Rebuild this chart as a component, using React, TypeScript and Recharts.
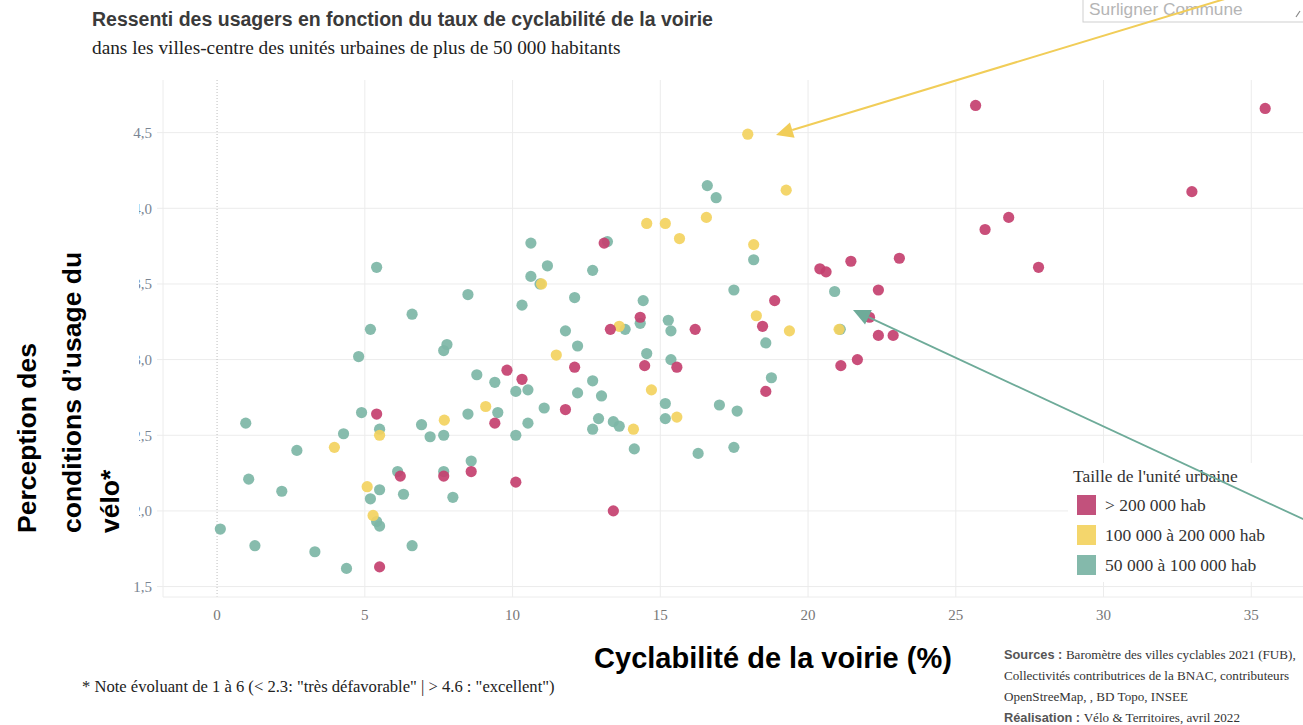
import React from 'react';
import { ScatterChart, Scatter, XAxis, YAxis, CartesianGrid, ReferenceLine } from 'recharts';

// ---- Data ----
// > 200 000 hab
const bigX = [5.40, 5.50, 6.20, 7.67, 8.60, 9.40, 9.81, 10.32, 10.11, 11.79, 12.10, 13.10, 13.31, 13.41, 14.32, 14.47, 16.18, 15.56, 18.57, 18.46, 18.87, 20.40, 20.61, 21.45, 23.09, 22.38, 22.08, 22.38, 22.88, 21.67, 21.11, 25.67, 25.99, 26.79, 27.80, 32.99, 35.47];
const bigY = [2.64, 1.63, 2.23, 2.23, 2.26, 2.58, 2.93, 2.87, 2.19, 2.67, 2.95, 3.77, 3.20, 2.00, 3.28, 2.96, 3.20, 2.95, 2.79, 3.22, 3.39, 3.60, 3.58, 3.65, 3.67, 3.46, 3.28, 3.16, 3.16, 3.00, 2.96, 4.68, 3.86, 3.94, 3.61, 4.11, 4.66];
// 100 000 à 200 000 hab
const midX = [3.97, 5.08, 5.28, 5.50, 7.69, 9.09, 10.98, 11.48, 13.61, 14.09, 14.54, 14.70, 15.17, 15.65, 16.56, 17.96, 19.26, 18.16, 15.56, 18.25, 19.37, 21.05];
const midY = [2.42, 2.16, 1.97, 2.50, 2.60, 2.69, 3.50, 3.03, 3.22, 2.54, 3.90, 2.80, 3.90, 3.80, 3.94, 4.49, 4.12, 3.76, 2.62, 3.29, 3.19, 3.20];
// 50 000 à 100 000 hab
const smallX = [0.11, 1.28, 0.97, 1.07, 2.19, 2.70, 3.31, 4.38, 4.28, 4.89, 4.79, 5.19, 5.40, 5.50, 5.50, 5.19, 5.40, 5.50, 6.11, 6.31, 6.60, 6.60, 6.92, 7.21, 7.67, 7.67, 7.67, 7.78, 7.98, 8.49, 8.49, 8.60, 8.79, 9.40, 9.50, 10.11, 10.52, 10.11, 10.52, 10.32, 10.62, 11.18, 10.62, 10.93, 11.07, 11.79, 12.10, 12.20, 12.20, 12.71, 12.71, 13.01, 12.91, 12.71, 13.21, 13.41, 13.61, 13.81, 14.12, 14.32, 14.42, 14.54, 16.59, 16.89, 18.16, 17.49, 15.27, 15.36, 15.36, 15.17, 15.17, 16.28, 17.49, 17.00, 17.60, 18.76, 18.57, 20.90, 21.09];
const smallY = [1.88, 1.77, 2.58, 2.21, 2.13, 2.40, 1.73, 1.62, 2.51, 2.65, 3.02, 3.20, 3.61, 2.54, 2.14, 2.08, 1.93, 1.90, 2.26, 2.11, 1.77, 3.30, 2.57, 2.49, 2.50, 2.26, 3.06, 3.10, 2.09, 3.43, 2.64, 2.33, 2.90, 2.85, 2.65, 2.79, 2.80, 2.50, 2.58, 3.36, 3.55, 3.62, 3.77, 3.50, 2.68, 3.19, 3.41, 3.09, 2.78, 3.59, 2.86, 2.76, 2.61, 2.54, 3.78, 2.59, 2.56, 3.20, 2.41, 3.24, 3.39, 3.04, 4.15, 4.07, 3.66, 3.46, 3.26, 3.19, 3.00, 2.71, 2.61, 2.38, 2.42, 2.70, 2.66, 2.88, 3.11, 3.45, 3.20];

const xTicks = [0, 5, 10, 15, 20, 25, 30, 35];
const yTicks = [1.5, 2.0, 2.5, 3.0, 3.5, 4.0, 4.5];
const legendLabels = ['> 200 000 hab', '100 000 à 200 000 hab', '50 000 à 100 000 hab'];

const RED = '#c4406f';
const YELLOW = '#f3d25f';
const TEAL = '#7db6a6';
const LEG_RED = '#c2517c';
const LEG_YELLOW = '#f4d66c';
const LEG_TEAL = '#84b9ab';

const zip = (xs: number[], ys: number[]) => xs.map((x, i) => ({ x, y: ys[i] }));
const bigData = zip(bigX, bigY);
const midData = zip(midX, midY);
const smallData = zip(smallX, smallY);

const dot = (color: string) => (props: any) =>
  props.cx == null ? null : (
    <circle cx={props.cx} cy={props.cy} r={5.6} fill={color} fillOpacity={0.92} />
  );

function Arrow({ x1, y1, x2, y2, color, w }: { x1: number; y1: number; x2: number; y2: number; color: string; w: number }) {
  const dx = x2 - x1;
  const dy = y2 - y1;
  const len = Math.sqrt(dx * dx + dy * dy);
  const ux = dx / len;
  const uy = dy / len;
  const hl = 17;
  const hw = 8;
  const bx = x2 - ux * hl;
  const by = y2 - uy * hl;
  const nx = -uy;
  const ny = ux;
  const pts = `${x2},${y2} ${bx + nx * hw},${by + ny * hw} ${bx - nx * hw},${by - ny * hw}`;
  return (
    <g>
      <line x1={x1} y1={y1} x2={bx} y2={by} stroke={color} strokeWidth={w} />
      <polygon points={pts} fill={color} />
    </g>
  );
}

const serif = '"Liberation Serif", "Times New Roman", serif';
const sans = '"Liberation Sans", Arial, sans-serif';

export default function App() {
  return (
    <div style={{ position: 'absolute', left: 0, top: 0, width: 1303, height: 725, background: '#fff', overflow: 'hidden' }}>
      <div style={{ position: 'absolute', left: 0, top: 0 }}>
        <ScatterChart width={1303} height={725} margin={{ top: 80, right: 0, bottom: 98, left: 0 }}>
          <CartesianGrid
            stroke="#ececec"
            strokeWidth={1}
            verticalValues={[5, 10, 15, 20, 25, 30, 35]}
            horizontalValues={yTicks}
          />
          <XAxis
            type="number"
            dataKey="x"
            domain={[-1.83, 36.75]}
            ticks={xTicks}
            allowDataOverflow
            height={30}
            tickLine={false}
            tickSize={0}
            tickMargin={12}
            axisLine={{ stroke: '#ececec' }}
            tick={{ fontFamily: serif, fontSize: 15, fill: '#777' }}
          />
          <YAxis
            type="number"
            dataKey="y"
            domain={[1.431, 4.848]}
            ticks={yTicks}
            allowDataOverflow
            width={163}
            tickSize={6}
            tickMargin={5}
            tickLine={{ stroke: '#ececec' }}
            axisLine={{ stroke: '#ececec' }}
            tickFormatter={(v: number) => v.toFixed(1).replace('.', ',')}
            tick={{ fontFamily: serif, fontSize: 15, fill: '#7a8593' }}
          />
          <ReferenceLine x={0} stroke="#bdbdbd" strokeDasharray="1 2" ifOverflow="visible" />
          <Scatter name={legendLabels[2]} data={smallData} fill={TEAL} shape={dot(TEAL)} isAnimationActive={false} />
          <Scatter name={legendLabels[1]} data={midData} fill={YELLOW} shape={dot(YELLOW)} isAnimationActive={false} />
          <Scatter name={legendLabels[0]} data={bigData} fill={RED} shape={dot(RED)} isAnimationActive={false} />
        </ScatterChart>
      </div>
      <svg width={1303} height={725} style={{ position: 'absolute', left: 0, top: 0, pointerEvents: 'none' }}>
        {/* Title & subtitle */}
        <text x={92} y={26} fontFamily={sans} fontWeight="bold" fontSize={19.5} fill="#3a3a3a">
          Ressenti des usagers en fonction du taux de cyclabilité de la voirie
        </text>
        <text x={92} y={54} fontFamily={serif} fontSize={19.3} fill="#222">
          dans les villes-centre des unités urbaines de plus de 50 000 habitants
        </text>

        {/* Search box */}
        <rect x={1083} y={-1} width={232} height={23} fill="#fff" stroke="#cfcfcf" />
        <text x={1089} y={15} fontFamily={sans} fontSize={17.3} fill="#b5b5b5">Surligner Commune</text>
        <line x1={1296} y1={17} x2={1300} y2={11} stroke="#888" strokeWidth={1.2} />

        {/* Y-axis title (with white backing) */}
        <rect x={0} y={148} width={139} height={422} fill="#fff" />
        <g fontFamily={sans} fontWeight="bold" fontSize={26.5} fill="#000">
          <text transform="translate(36,533) rotate(-90)">Perception des</text>
          <text transform="translate(81,533) rotate(-90)">conditions d’usage du</text>
          <text transform="translate(119,533) rotate(-90)">vélo*</text>
        </g>

        {/* X-axis title */}
        <text x={773} y={668} textAnchor="middle" fontFamily={sans} fontWeight="bold" fontSize={29} fill="#000">
          Cyclabilité de la voirie (%)
        </text>

        {/* Footnote */}
        <text x={82} y={692} fontFamily={serif} fontSize={16.6} fill="#222">
          * Note évoluant de 1 à 6 (&lt; 2.3: "très défavorable" | &gt; 4.6 : "excellent")
        </text>

        {/* Sources */}
        <g fontFamily={serif} fontSize={13.1} fill="#333">
          <text x={1004} y={659}>
            <tspan fontFamily={sans} fontWeight="bold" fill="#555" fontSize={12.8}>Sources : </tspan>
            Baromètre des villes cyclables 2021 (FUB),
          </text>
          <text x={1004} y={680}>Collectivités contributrices de la BNAC, contributeurs</text>
          <text x={1004} y={701}>OpenStreeMap, , BD Topo, INSEE</text>
          <text x={1004} y={722}>
            <tspan fontFamily={sans} fontWeight="bold" fill="#555" fontSize={12.8}>Réalisation : </tspan>
            Vélo &amp; Territoires, avril 2022
          </text>
        </g>

        {/* Legend */}
        <rect x={1068} y={463} width={240} height={119} fill="#fff" />
        <g fontFamily={serif} fontSize={17.5} fill="#333">
          <text x={1073} y={482}>Taille de l'unité urbaine</text>
          <rect x={1077} y={495} width={19} height={20} fill={LEG_RED} />
          <text x={1105} y={511}>{legendLabels[0]}</text>
          <rect x={1077} y={525} width={19} height={20} fill={LEG_YELLOW} />
          <text x={1105} y={541}>{legendLabels[1]}</text>
          <rect x={1077} y={555} width={19} height={20} fill={LEG_TEAL} />
          <text x={1105} y={571}>{legendLabels[2]}</text>
        </g>

        {/* Annotation arrows */}
        <Arrow x1={1228} y1={-2} x2={776} y2={135} color="#f1cd58" w={2} />
        <Arrow x1={1305} y1={520} x2={853} y2={310} color="#6eab99" w={1.8} />
      </svg>
    </div>
  );
}
